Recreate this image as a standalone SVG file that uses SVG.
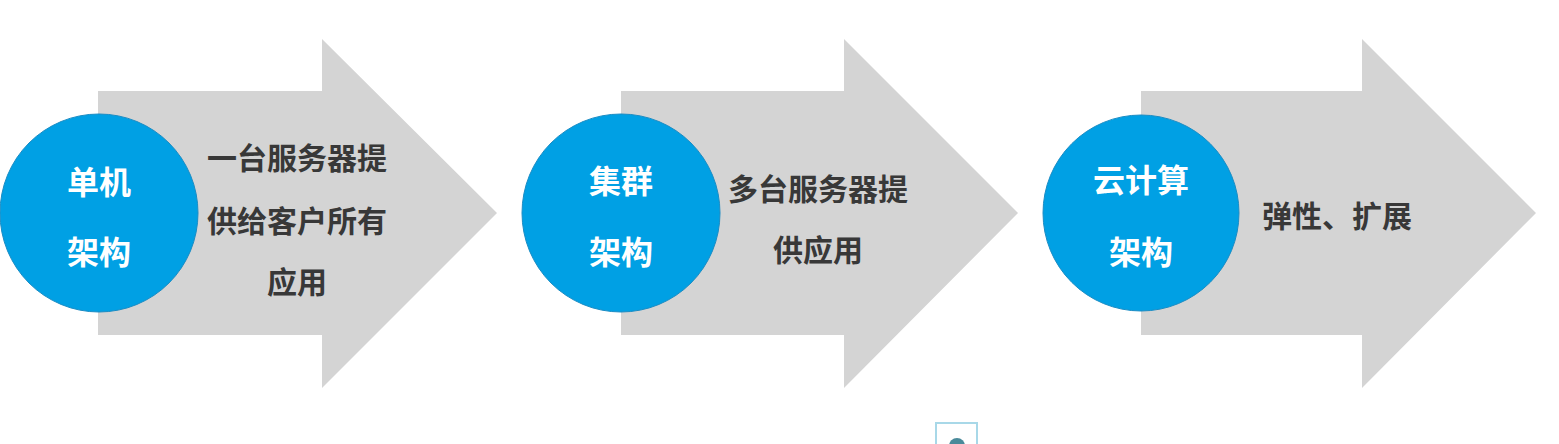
<svg xmlns="http://www.w3.org/2000/svg" width="1559" height="444" viewBox="0 0 1559 444">
<style>
.arrow{fill:#d4d4d4}
.circ{fill:#00a0e4;stroke:#1a8cc4;stroke-width:1}
.ct{font-family:"Noto Sans CJK SC","Noto Sans",sans-serif;font-weight:700;font-size:32px;fill:#ffffff;text-anchor:middle;dominant-baseline:central}
.at{font-family:"Noto Sans CJK SC","Noto Sans",sans-serif;font-weight:700;font-size:30px;fill:#383838;text-anchor:middle;dominant-baseline:central}
</style>
<rect width="1559" height="444" fill="#ffffff"/>
<g id="stage1">
<polygon class="arrow" points="98,91 322,91 322,39 497,213 322,388 322,335 98,335"/>
<circle class="circ" cx="99" cy="213" r="99"/>
<text class="ct" x="99" y="180">单机</text>
<text class="ct" x="99" y="250">架构</text>
<text class="at" x="297" y="156">一台服务器提</text>
<text class="at" x="297" y="219">供给客户所有</text>
<text class="at" x="297" y="280">应用</text>
</g>
<g id="stage2">
<polygon class="arrow" points="621,91 844,91 844,39 1018,213 844,388 844,335 621,335"/>
<circle class="circ" cx="621" cy="213" r="99"/>
<text class="ct" x="621" y="179">集群</text>
<text class="ct" x="621" y="250">架构</text>
<text class="at" x="818" y="187">多台服务器提</text>
<text class="at" x="818" y="248">供应用</text>
</g>
<g id="stage3">
<polygon class="arrow" points="1141,91 1362,91 1362,39 1536,213 1362,388 1362,335 1141,335"/>
<circle class="circ" cx="1141" cy="213" r="98"/>
<text class="ct" x="1141" y="178">云计算</text>
<text class="ct" x="1141" y="250">架构</text>
<text class="at" x="1337" y="214">弹性、扩展</text>
</g>
<g id="connectors"></g>
<g id="corner-icon">
<rect x="936" y="423" width="41" height="30" fill="#ffffff" stroke="#a8d8e8" stroke-width="2"/>
<circle cx="957" cy="446" r="8" fill="#4a8a9a"/>
</g>
</svg>
